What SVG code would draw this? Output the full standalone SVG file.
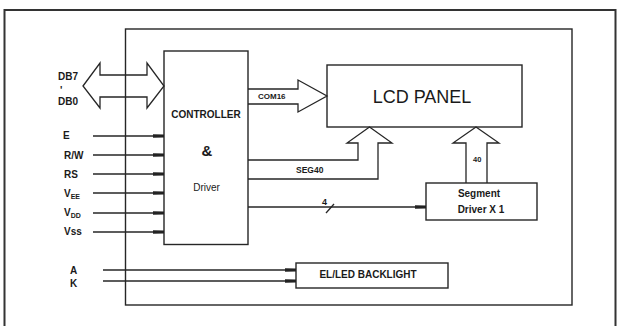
<svg xmlns="http://www.w3.org/2000/svg" width="620" height="326" viewBox="0 0 620 326">
<defs>
<marker id="ah" markerUnits="userSpaceOnUse" markerWidth="12" markerHeight="6" refX="11" refY="3" orient="auto">
<path d="M0,1.2 L11,1.6 L11,4.4 L0,4.8 Z" fill="#222"/>
</marker>
<style>
.ln{fill:none;stroke:#262626;stroke-width:1.3}
.bx{fill:none;stroke:#262626;stroke-width:1.4}
.t{font-family:"Liberation Sans",Arial,sans-serif;font-weight:bold;font-size:10px;fill:#1a1a1a}
.r{font-family:"Liberation Sans",Arial,sans-serif;font-size:10px;fill:#1a1a1a}
.s8{font-size:8px}
.s7{font-size:7px}
</style>
</defs>
<rect width="620" height="326" fill="#fff"/>
<path d="M4.5,330 V10 H615.5 V330" fill="none" stroke="#333" stroke-width="2"/>
<g id="module"><rect class="bx" x="125.5" y="29" width="446.5" height="276"/></g>
<g id="controller">
<rect class="bx" x="164" y="51" width="84" height="193.5"/>
<text class="t" x="206" y="118" text-anchor="middle">CONTROLLER</text>
<text class="t" x="207" y="156" text-anchor="middle" style="font-size:15px">&amp;</text>
<text class="r" x="206.5" y="191" text-anchor="middle">Driver</text>
</g>
<g id="lcd-panel">
<rect class="bx" x="327" y="65" width="195" height="62"/>
<text x="422" y="103" text-anchor="middle" font-family="Liberation Sans,Arial,sans-serif" font-size="18" fill="#1a1a1a">LCD PANEL</text>
</g>
<g id="segment-driver">
<rect class="bx" x="426" y="183" width="111" height="37"/>
<text class="t" x="479" y="197" text-anchor="middle">Segment</text>
<text class="t" x="481" y="213" text-anchor="middle">Driver X 1</text>
</g>
<g id="backlight">
<rect class="bx" x="296" y="263" width="152" height="25"/>
<text class="t" x="368" y="278" text-anchor="middle">EL/LED BACKLIGHT</text>
</g>
<g id="labels">
<text class="t" x="58" y="80">DB7</text>
<text class="t" x="60" y="94">'</text>
<text class="t" x="58" y="105">DB0</text>
<text class="t" x="63" y="139">E</text>
<text class="t" x="64" y="159">R/W</text>
<text class="t" x="64" y="178">RS</text>
<text class="t" x="64" y="197">V<tspan class="s7" dy="1.5">EE</tspan></text>
<text class="t" x="64" y="216">V<tspan class="s7" dy="1.5">DD</tspan></text>
<text class="t" x="64" y="235">Vss</text>
<text class="t" x="70" y="274">A</text>
<text class="t" x="70" y="287">K</text>
<text class="t s8" x="258" y="99">COM16</text>
<text class="t" x="296" y="173" style="font-size:8.5px">SEG40</text>
<text class="t" x="473" y="162" style="font-size:7.5px">40</text>
<text class="t" x="322" y="205" style="font-size:9px">4</text>
</g>
<g id="connectors">
<polygon class="ln" points="83,86 100,63 100,75 147,75 147,63 164,86 147,108 147,97 100,97 100,108"/>
<polyline class="ln" points="248,89 298,89 298,80 327,96 298,112 298,104 248,104"/>
<polyline class="ln" points="248,160 358,160 358,143 347,143 369.5,127 392,143 378,143 378,179 248,179"/>
<polyline class="ln" points="466,183 466,143 453,143 476,127 499,143 487,143 487,183"/>
<line class="ln" x1="93" y1="136" x2="164" y2="136" marker-end="url(#ah)"/>
<line class="ln" x1="93" y1="155" x2="164" y2="155" marker-end="url(#ah)"/>
<line class="ln" x1="93" y1="174" x2="164" y2="174" marker-end="url(#ah)"/>
<line class="ln" x1="93" y1="193" x2="164" y2="193" marker-end="url(#ah)"/>
<line class="ln" x1="93" y1="213" x2="164" y2="213" marker-end="url(#ah)"/>
<line class="ln" x1="93" y1="232" x2="164" y2="232" marker-end="url(#ah)"/>
<line class="ln" x1="103" y1="270" x2="296" y2="270" marker-end="url(#ah)"/>
<line class="ln" x1="103" y1="281" x2="296" y2="281" marker-end="url(#ah)"/>
<line class="ln" x1="248" y1="207" x2="426" y2="207" marker-end="url(#ah)"/>
<line class="ln" x1="326" y1="213" x2="334" y2="204"/>
</g>
</svg>
